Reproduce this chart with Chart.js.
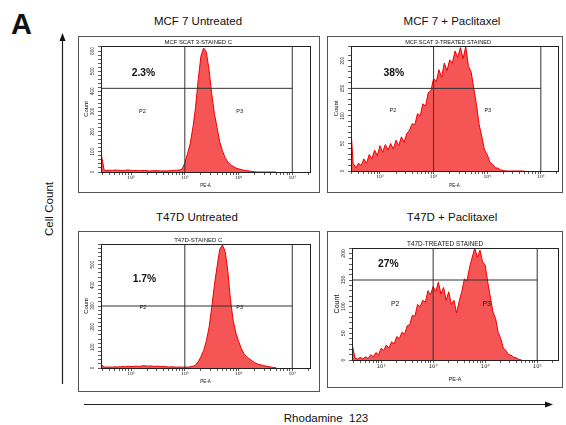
<!DOCTYPE html>
<html>
<head>
<meta charset="utf-8">
<script src="https://cdn.jsdelivr.net/npm/chart.js@4.4.1/dist/chart.umd.min.js"></script>
<style>
  body { margin: 0; width: 566px; height: 425px; background: #fff; position: relative; overflow: hidden; }
  svg.frame { position: absolute; left: 0; top: 0; }
  .box { position: absolute; border: 1px solid #555; box-sizing: border-box; background: #fff; }
  .box canvas { position: absolute; left: 0; top: 0; }
</style>
</head>
<body>
<svg class="frame" width="566" height="425" font-family="'Liberation Sans', Arial, sans-serif" fill="#111">
  <text x="11" y="34" font-size="29" font-weight="bold">A</text>
  <text x="198" y="24.5" font-size="11.5" text-anchor="middle">MCF 7 Untreated</text>
  <text x="452" y="24.5" font-size="11.5" text-anchor="middle">MCF 7 + Paclitaxel</text>
  <text x="197" y="220.5" font-size="11.5" text-anchor="middle">T47D Untreated</text>
  <text x="452" y="220.5" font-size="11.5" text-anchor="middle">T47D + Paclitaxel</text>
  <text transform="translate(52.5,209) rotate(-90)" font-size="11.6" text-anchor="middle">Cell Count</text>
  <text x="326" y="422" font-size="11.5" text-anchor="middle" xml:space="preserve">Rhodamine  123</text>
  <line x1="62.5" y1="384" x2="62.5" y2="40" stroke="#222" stroke-width="1.2"/>
  <polygon points="62.5,33 59.5,41 65.5,41" fill="#111"/>
  <line x1="84" y1="404.5" x2="546" y2="404.5" stroke="#222" stroke-width="1.2"/>
  <polygon points="553,404.5 545,401.5 545,407.5" fill="#111"/>
</svg>

<div class="box" style="left:78px;top:36px;width:242px;height:157px"><canvas id="c1"></canvas></div>
<div class="box" style="left:327px;top:36px;width:236px;height:157px"><canvas id="c2"></canvas></div>
<div class="box" style="left:78px;top:231px;width:242px;height:161px"><canvas id="c3"></canvas></div>
<div class="box" style="left:327px;top:231px;width:236px;height:157px"><canvas id="c4"></canvas></div>

<script>
// log10(PE-A) bin centres
const logBins = [1.45, 1.50, 1.55, 1.60, 1.65, 1.70, 1.75, 1.80, 1.85, 1.90, 1.95,
  2.00, 2.05, 2.10, 2.15, 2.20, 2.25, 2.30, 2.35, 2.40, 2.45, 2.50, 2.55, 2.60, 2.65, 2.70, 2.75, 2.80, 2.85, 2.90, 2.95,
  3.00, 3.05, 3.10, 3.15, 3.20, 3.25, 3.30, 3.35, 3.40, 3.45, 3.50, 3.55, 3.60, 3.65, 3.70, 3.75, 3.80, 3.85, 3.90, 3.95,
  4.00, 4.05, 4.10, 4.15, 4.20, 4.25, 4.30, 4.35, 4.40, 4.45, 4.50, 4.55, 4.60, 4.65, 4.70];

// counts per bin
const mcfUntreated = [80, 8, 7, 9, 8, 10, 9, 8, 7, 9, 10, 8, 7, 8, 6, 7, 8, 6, 5, 6, 7, 6, 5, 6, 5, 6, 7, 8, 9, 10,
  15, 45, 90, 140, 220, 320, 460, 575, 615, 595, 510, 390, 290, 220, 150, 105, 72, 50, 36, 28, 20, 16, 12, 9, 7, 5, 3, 1,
  0, 0, 0, 0, 0, 0, 0, 0];
const mcfTreated = [90, 14, 6, 14, 10, 22, 14, 30, 22, 38, 28, 46, 34, 48, 38, 50, 40, 56, 46, 62,
  52, 68, 74, 86, 84, 104, 100, 122, 118, 142, 146, 168, 162, 184, 170, 196, 182, 202, 196, 218,
  206, 224, 204, 226, 190, 180, 150, 120, 84, 62, 38, 30, 16, 12, 6, 5, 2, 1, 0, 0, 0, 0, 0, 0, 0, 0];
const t47dUntreated = [15, 5, 4, 5, 4, 6, 5, 6, 7, 6, 8, 7, 8, 9, 8, 10, 11, 9, 10, 9, 8, 9, 7, 8, 6,
  5, 6, 5, 4, 5, 4, 5, 4, 6, 8, 14, 30, 55, 85, 130, 195, 290, 400, 490, 575, 595, 565, 470, 330, 230,
  170, 130, 95, 70, 55, 45, 35, 26, 20, 16, 13, 10, 7, 5, 3, 1];
const t47dTreated = [26, 3, 2, 5, 2, 6, 3, 10, 6, 14, 10, 22, 18, 28, 22, 34, 30, 44, 40, 52,
  48, 64, 66, 84, 82, 104, 100, 112, 108, 130, 122, 138, 128, 146, 124, 136, 112, 128, 104, 112,
  88, 110, 128, 152, 148, 174, 192, 210, 192, 206, 184, 178, 146, 118, 90, 78, 52, 40, 22, 18,
  10, 9, 5, 4, 1, 0];

const tubeNames = ['MCF SCAT 3-STAINED C', 'MCF SCAT 3-TREATED STAINED', 'T47D-STAINED C', 'T47D-TREATED STAINED'];
const gatePercent = ['2.3%', '38%', '1.7%', '27%'];
const gateX = [3, 5];
const gateY = [415, 150, 300, 150];
const yMax = [625, 227, 600, 210];
const yMajor = [100, 50, 100, 50];
const xTickValues = [2, 3, 4, 5];
const xTickLabels = ['10²', '10³', '10⁴', '10⁵'];

const FONT = "'Liberation Sans', Arial, sans-serif";
Chart.defaults.font.family = FONT;
Chart.defaults.color = '#222';

const layouts = [
  { w: 240, h: 155, pad: { left: 0, top: 9, right: 9, bottom: 4 }, yw: 22, xh: 16, xr: [1.44, 5.33],
    titleX: 3.25, pct: [2.23, 492], p2: [2.21, 302], p3: [4.02, 302],
    fs: { title: 5.9, count: 5.9, countPad: 3.5, pe: 4.5, tick: 4.5, pct: 10.3, gate: 5.5 } },
  { w: 234, h: 155, pad: { left: 0, top: 9, right: 4, bottom: 4 }, yw: 23, xh: 17, xr: [1.46, 5.32],
    titleX: 3.27, pct: [2.26, 178], p2: [2.24, 109], p3: [4.01, 109],
    fs: { title: 5.6, count: 5.9, countPad: 4.5, pe: 4.5, tick: 4.5, pct: 10.3, gate: 5.5 } },
  { w: 240, h: 159, pad: { left: 0, top: 12, right: 9, bottom: 7 }, yw: 22, xh: 16, xr: [1.44, 5.33],
    titleX: 3.25, pct: [2.25, 429], p2: [2.22, 295], p3: [4.02, 295],
    fs: { title: 6, count: 5.9, countPad: 3.5, pe: 4.5, tick: 4.5, pct: 10.3, gate: 5.5 } },
  { w: 234, h: 155, pad: { left: 0, top: 16, right: 4, bottom: 4 }, yw: 24, xh: 23, xr: [1.44, 5.40],
    titleX: 3.23, pct: [2.14, 180], p2: [2.27, 105], p3: [4.03, 105],
    fs: { title: 6.4, count: 7.1, countPad: 4.4, pe: 5.5, tick: 5.2, pct: 10.3, gate: 7 } }
];

const panelDecor = {
  id: 'panelDecor',
  afterDraw(chart, args, o) {
    const { ctx, chartArea: a, scales: { x, y } } = chart;
    ctx.save();
    ctx.strokeStyle = '#222';
    ctx.lineWidth = 1;
    ctx.strokeRect(Math.round(a.left) + 0.5, Math.round(a.top) + 0.5,
      Math.round(a.right - a.left), Math.round(a.bottom - a.top));
    ctx.fillStyle = '#111';
    ctx.textAlign = 'center';
    ctx.textBaseline = 'bottom';
    ctx.font = o.fs.title + 'px ' + FONT;
    ctx.fillText(o.tube, x.getPixelForValue(o.titleX), a.top - 0.5);
    ctx.textBaseline = 'middle';
    ctx.font = 'bold ' + o.fs.pct + 'px ' + FONT;
    ctx.fillText(o.pctText, x.getPixelForValue(o.pct[0]), y.getPixelForValue(o.pct[1]));
    ctx.font = o.fs.gate + 'px ' + FONT;
    ctx.fillText('P2', x.getPixelForValue(o.p2[0]), y.getPixelForValue(o.p2[1]));
    ctx.fillText('P3', x.getPixelForValue(o.p3[0]), y.getPixelForValue(o.p3[1]));
    ctx.restore();
  }
};

function makeChart(id, idx, values) {
  const L = layouts[idx];
  const canvas = document.getElementById(id);
  canvas.width = L.w;
  canvas.height = L.h;
  canvas.style.width = L.w + 'px';
  canvas.style.height = L.h + 'px';
  const hist = values.map((v, i) => ({ x: logBins[i], y: v }));
  const gateLine = { borderColor: '#333', borderWidth: 1, pointRadius: 0, fill: false, order: 0 };
  new Chart(canvas.getContext('2d'), {
    type: 'line',
    data: {
      datasets: [
        Object.assign({ data: [{ x: gateX[0], y: 0 }, { x: gateX[0], y: yMax[idx] }] }, gateLine),
        Object.assign({ data: [{ x: gateX[1], y: 0 }, { x: gateX[1], y: yMax[idx] }] }, gateLine),
        Object.assign({ data: [{ x: L.xr[0], y: gateY[idx] }, { x: gateX[1], y: gateY[idx] }] }, gateLine),
        {
          data: hist,
          borderColor: '#ee0000',
          backgroundColor: 'rgba(244,66,66,0.9)',
          borderWidth: 1,
          pointRadius: 0,
          tension: 0,
          fill: 'origin',
          order: 1
        }
      ]
    },
    options: {
      responsive: false,
      animation: false,
      devicePixelRatio: 1,
      layout: { padding: L.pad },
      plugins: {
        legend: { display: false },
        tooltip: { enabled: false },
        panelDecor: { tube: tubeNames[idx], pctText: gatePercent[idx], titleX: L.titleX,
          pct: L.pct, p2: L.p2, p3: L.p3, fs: L.fs }
      },
      scales: {
        x: {
          type: 'linear',
          min: L.xr[0],
          max: L.xr[1],
          afterBuildTicks: (s) => {
            const t = [];
            for (let n = 1; n <= 5; n++) {
              for (let k = 1; k <= 9; k++) {
                const v = n + Math.log10(k);
                if (v >= s.min && v <= s.max) t.push({ value: v });
              }
            }
            s.ticks = t;
          },
          afterFit: (s) => { s.height = L.xh; },
          ticks: {
            autoSkip: false,
            maxRotation: 0,
            minRotation: 0,
            padding: 0.5,
            font: { size: L.fs.tick, family: "'DejaVu Sans', sans-serif" },
            callback: (v) => {
              const r = Math.round(v);
              if (Math.abs(v - r) > 1e-6) return '';
              const i = xTickValues.indexOf(r);
              return i >= 0 ? xTickLabels[i] : '';
            }
          },
          grid: { drawOnChartArea: false, drawTicks: true, tickLength: 3, color: '#333', lineWidth: 0.8 },
          border: { display: true, color: '#222', width: 1 },
          title: { display: true, text: 'PE-A', font: { size: L.fs.pe }, padding: { top: 0, bottom: 0 }, color: '#111' }
        },
        y: {
          type: 'linear',
          min: 0,
          max: yMax[idx],
          afterFit: (s) => { s.width = L.yw; },
          ticks: {
            stepSize: yMajor[idx] / 5,
            autoSkip: false,
            minRotation: 90,
            maxRotation: 90,
            crossAlign: 'center',
            padding: 1,
            font: { size: L.fs.tick },
            callback: (v) => (v % yMajor[idx] === 0 && v < yMax[idx]) ? String(v) : ''
          },
          grid: { drawOnChartArea: false, drawTicks: true, tickLength: 3, color: '#333', lineWidth: 0.8 },
          border: { display: true, color: '#222', width: 1 },
          title: { display: true, text: 'Count', font: { size: L.fs.count }, padding: { top: L.fs.countPad, bottom: 0 }, color: '#111' }
        }
      }
    },
    plugins: [panelDecor]
  });
}

makeChart('c1', 0, mcfUntreated);
makeChart('c2', 1, mcfTreated);
makeChart('c3', 2, t47dUntreated);
makeChart('c4', 3, t47dTreated);
</script>
</body>
</html>
